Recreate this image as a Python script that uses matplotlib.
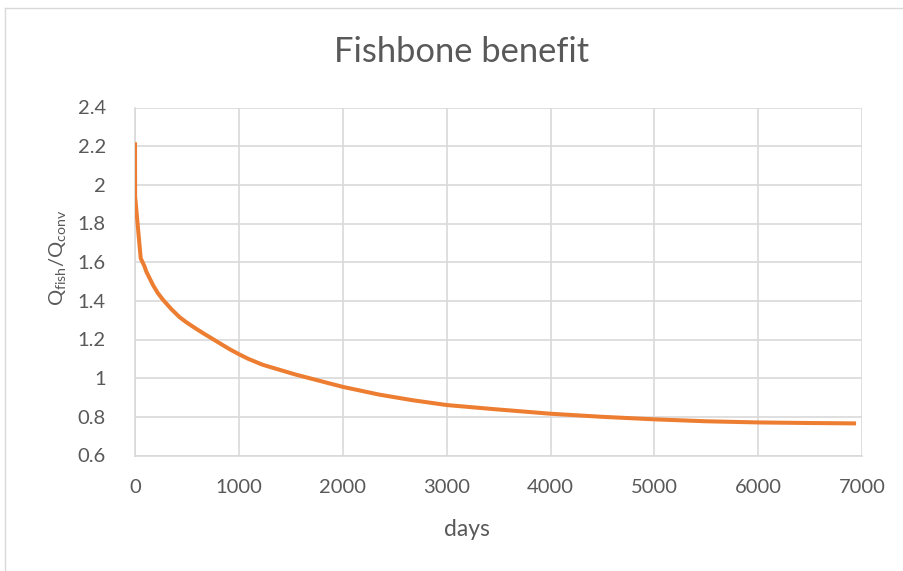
import matplotlib
matplotlib.use("Agg")
import matplotlib.pyplot as plt
from matplotlib.lines import Line2D

# Production ratio of the fishbone well over the conventional well
days = [0, 1, 55, 90, 110, 175, 220, 270, 350, 430, 500, 590, 670, 750, 830,
        910, 1000, 1090, 1230, 1550, 2000, 2350, 2670, 3000, 3450, 4000, 4500,
        5000, 5500, 6000, 6500, 6940]
ratio = [2.22, 1.94, 1.62, 1.58, 1.55, 1.48, 1.44, 1.405, 1.357, 1.315, 1.287,
         1.255, 1.228, 1.202, 1.176, 1.150, 1.124, 1.100, 1.069, 1.018, 0.955,
         0.915, 0.886, 0.861, 0.840, 0.816, 0.800, 0.787, 0.777, 0.771, 0.768,
         0.766]

x_ticks = [0, 1000, 2000, 3000, 4000, 5000, 6000, 7000]
y_ticks = [0.6, 0.8, 1.0, 1.2, 1.4, 1.6, 1.8, 2.0, 2.2, 2.4]
y_tick_labels = ["0.6", "0.8", "1", "1.2", "1.4", "1.6", "1.8", "2", "2.2", "2.4"]

title = "Fishbone benefit"
x_label = "days"

TEXT = "#595959"
GRID = "#D9D9D9"
ORANGE = "#ED7D31"
FONT = "Lato"

plt.rcParams["font.family"] = [FONT, "DejaVu Sans"]
plt.rcParams["mathtext.fontset"] = "custom"
plt.rcParams["mathtext.rm"] = FONT
plt.rcParams["mathtext.it"] = FONT

W, H = 904, 571
fig = plt.figure(figsize=(W / 100, H / 100), dpi=100)

# chart-area border
fig.add_artist(Line2D([5 / W, 5 / W], [0, 1 - 7.5 / H], color=GRID, lw=1.0))
fig.add_artist(Line2D([5 / W, 1], [1 - 7.5 / H, 1 - 7.5 / H], color=GRID, lw=1.0))

left, right, top, bottom = 135, 862.3, 107.5, 455.5
ax = fig.add_axes([left / W, 1 - bottom / H, (right - left) / W, (bottom - top) / H])

ax.plot(days, ratio, color=ORANGE, lw=2.9, solid_joinstyle="round",
        solid_capstyle="butt", zorder=3)

ax.set_xlim(0, 7000)
ax.set_ylim(0.6, 2.4)
ax.set_xticks(x_ticks)
ax.set_yticks(y_ticks)
ax.set_yticklabels(y_tick_labels)
ax.grid(True, color=GRID, lw=1.2)
ax.set_axisbelow(True)
for side in ["top", "right"]:
    ax.spines[side].set_visible(False)
for side in ["left", "bottom"]:
    ax.spines[side].set_color(GRID)
    ax.spines[side].set_linewidth(1.2)
ax.tick_params(length=0, labelsize=14.5, labelcolor=TEXT)
ax.tick_params(axis="x", pad=17)
ax.tick_params(axis="y", pad=21)

fig.text(461.5 / W, 1 - 52 / H, title, ha="center", va="center",
         fontsize=24.8, color=TEXT)
fig.text(467 / W, 1 - 529 / H, x_label, ha="center", va="center",
         fontsize=16.5, color=TEXT)
fig.text(57.5 / W, 1 - 258 / H,
         r"Q$_{\mathrm{fish}}$/Q$_{\mathrm{conv}}$",
         ha="center", va="center", rotation=90, fontsize=14.5, color=TEXT)

fig.savefig("out.png", dpi=100)
